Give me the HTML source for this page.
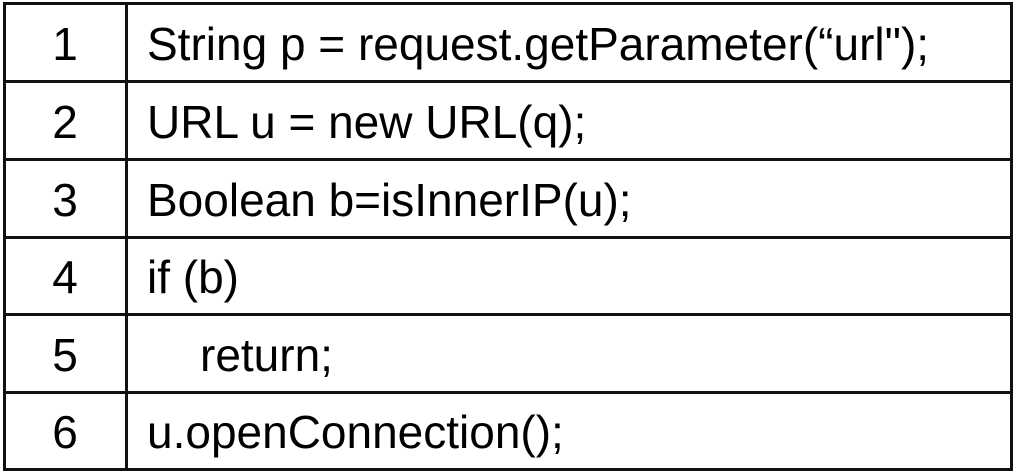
<!DOCTYPE html>
<html><head><meta charset="utf-8"><style>
html,body{margin:0;padding:0;background:#fff;width:1017px;height:473px;overflow:hidden}
.h{position:absolute;left:3px;width:1010px;height:3px;background:#111}
.v{position:absolute;top:2px;width:3px;height:469px;background:#111}
.t{position:absolute;font-family:"Liberation Sans","Noto Sans CJK SC",sans-serif;font-size:46px;color:#000;line-height:78px;white-space:pre}
.n{left:4px;width:122px;text-align:center}
.c{left:147px}
</style></head><body>
<div class="h" style="top:2px"></div>
<div class="h" style="top:80px"></div>
<div class="h" style="top:158px"></div>
<div class="h" style="top:236px"></div>
<div class="h" style="top:313px"></div>
<div class="h" style="top:391px"></div>
<div class="h" style="top:468px"></div>
<div class="v" style="left:3px"></div>
<div class="v" style="left:125px"></div>
<div class="v" style="left:1010px"></div>
<div class="t n" style="top:5px">1</div><div class="t c" style="top:5px">String p = request.getParameter(“url");</div>
<div class="t n" style="top:83px">2</div><div class="t c" style="top:83px">URL u = new URL(q);</div>
<div class="t n" style="top:161px">3</div><div class="t c" style="top:161px">Boolean b=isInnerIP(u);</div>
<div class="t n" style="top:238px">4</div><div class="t c" style="top:238px">if (b)</div>
<div class="t n" style="top:316px">5</div><div class="t" style="top:316px;left:200px">return;</div>
<div class="t n" style="top:393px">6</div><div class="t c" style="top:393px">u.openConnection();</div>
</body></html>
